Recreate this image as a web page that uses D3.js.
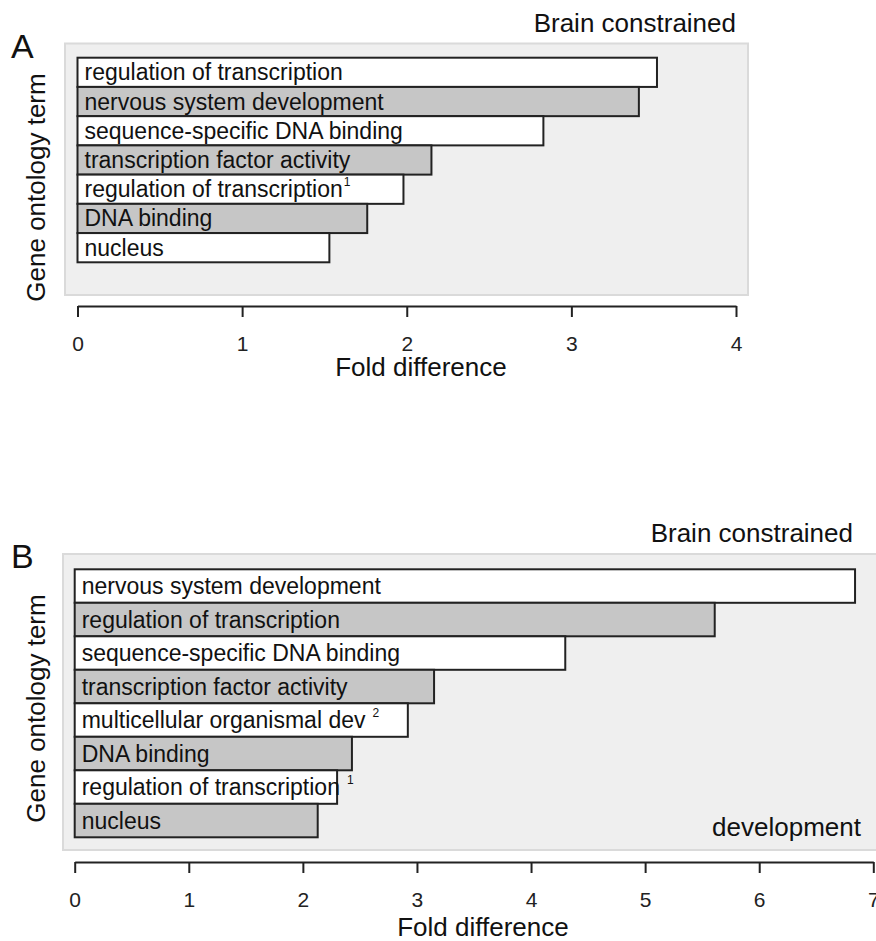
<!DOCTYPE html>
<html>
<head>
  <meta charset="utf-8">
  <title>Brain constrained GO terms</title>
  <script src="https://cdn.jsdelivr.net/npm/d3@7"></script>
  <style>
    body { margin: 0; background: #fff; }
    svg { font-family: "Liberation Sans", Arial, sans-serif; }
  </style>
</head>
<body>
  <svg id="chart" width="876" height="941"></svg>
  <script>
    // panel A
    const termsA = ["regulation of transcription", "nervous system development", "sequence-specific DNA binding",
      "transcription factor activity", "regulation of transcription", "DNA binding", "nucleus"];
    const foldA = [3.52, 3.41, 2.83, 2.15, 1.98, 1.76, 1.53];
    const notesA = ["", "", "", "", "1", "", ""];
    const ticksA = [0, 1, 2, 3, 4];

    // panel B
    const termsB = ["nervous system development", "regulation of transcription", "sequence-specific DNA binding",
      "transcription factor activity", "multicellular organismal dev", "DNA binding", "regulation of transcription", "nucleus"];
    const foldB = [6.84, 5.61, 4.30, 3.15, 2.92, 2.43, 2.30, 2.13];
    const notesB = ["", "", "", "", "2", "", "1", ""];
    const ticksB = [0, 1, 2, 3, 4, 5, 6, 7];

    const svg = d3.select('#chart');

    function panel(opt) {
      const g = svg.append('g');
      const x = d3.scaleLinear().domain([0, opt.max]).range([opt.x0, opt.x1]);
      const y = d3.scaleBand().domain(d3.range(opt.terms.length)).range([opt.y0, opt.y1]).paddingInner(0);

      // grey background box
      g.append('rect')
        .attr('x', opt.bg[0]).attr('y', opt.bg[1])
        .attr('width', opt.bg[2] - opt.bg[0]).attr('height', opt.bg[3] - opt.bg[1])
        .attr('fill', '#efefef').attr('stroke', '#dadada').attr('stroke-width', 2);

      g.selectAll('.bar')
        .data(opt.values)
        .join('rect')
        .attr('class', 'bar')
        .attr('x', x(0))
        .attr('y', (d, i) => y(i))
        .attr('width', d => x(d) - x(0))
        .attr('height', y.bandwidth())
        .attr('fill', (d, i) => i % 2 ? '#c6c6c6' : '#ffffff')
        .attr('stroke', '#222').attr('stroke-width', 2);

      const lab = g.selectAll('.lab')
        .data(opt.terms)
        .join('text')
        .attr('class', 'lab')
        .attr('x', x(0) + 7)
        .attr('y', (d, i) => y(i) + y.bandwidth() / 2 + 8)
        .attr('font-size', 23)
        .attr('fill', '#111');
      lab.append('tspan').text(d => d);
      lab.append('tspan')
        .attr('font-size', 12)
        .attr('dx', (d, i) => opt.noteGap[i] || 0)
        .attr('dy', -11)
        .text((d, i) => opt.notes[i]);

      // axis
      const ax = g.append('g')
        .attr('transform', `translate(0,${opt.axisY})`)
        .call(d3.axisBottom(x).tickValues(opt.ticks).tickFormat(d3.format('d'))
          .tickSize(11).tickSizeOuter(0).tickPadding(19));
      ax.select('.domain').attr('stroke', '#222').attr('stroke-width', 2);
      ax.selectAll('.tick line').attr('stroke', '#222').attr('stroke-width', 2);
      ax.selectAll('.tick text').attr('font-size', 21).attr('fill', '#222')
        .attr('font-family', '"Liberation Sans", Arial, sans-serif');

      g.append('text')
        .attr('x', opt.xlab[0]).attr('y', opt.xlab[1])
        .attr('text-anchor', 'middle').attr('font-size', 26).attr('fill', '#111')
        .text('Fold difference');

      g.append('text')
        .attr('transform', `translate(45,${opt.ylabY}) rotate(-90)`)
        .attr('text-anchor', 'middle').attr('font-size', 26).attr('fill', '#111')
        .text('Gene ontology term');

      g.append('text')
        .attr('x', 11).attr('y', opt.letterY)
        .attr('font-size', 34).attr('fill', '#111')
        .text(opt.letter);

      g.append('text')
        .attr('x', opt.title[0]).attr('y', opt.title[1])
        .attr('text-anchor', 'end').attr('font-size', 26).attr('fill', '#111')
        .text('Brain constrained');

      return g;
    }

    panel({
      terms: termsA, values: foldA, notes: notesA, noteGap: [0, 0, 0, 0, 1, 0, 0], ticks: ticksA, max: 4,
      x0: 77.5, x1: 736, y0: 57.7, y1: 262.3,
      bg: [65, 43.5, 748, 295], axisY: 306,
      xlab: [421, 376], ylabY: 187.5, letter: 'A', letterY: 58, title: [736, 32]
    });

    const gB = panel({
      terms: termsB, values: foldB, notes: notesB, noteGap: [0, 0, 0, 0, 7, 0, 7, 0], ticks: ticksB, max: 7,
      x0: 74.7, x1: 873.3, y0: 569.3, y1: 837.3,
      bg: [63, 554, 880, 850], axisY: 862,
      xlab: [483, 936], ylabY: 708.5, letter: 'B', letterY: 568, title: [853, 542]
    });

    gB.append('text')
      .attr('x', 861).attr('y', 836)
      .attr('text-anchor', 'end').attr('font-size', 26).attr('fill', '#111')
      .text('development');
  </script>
</body>
</html>
